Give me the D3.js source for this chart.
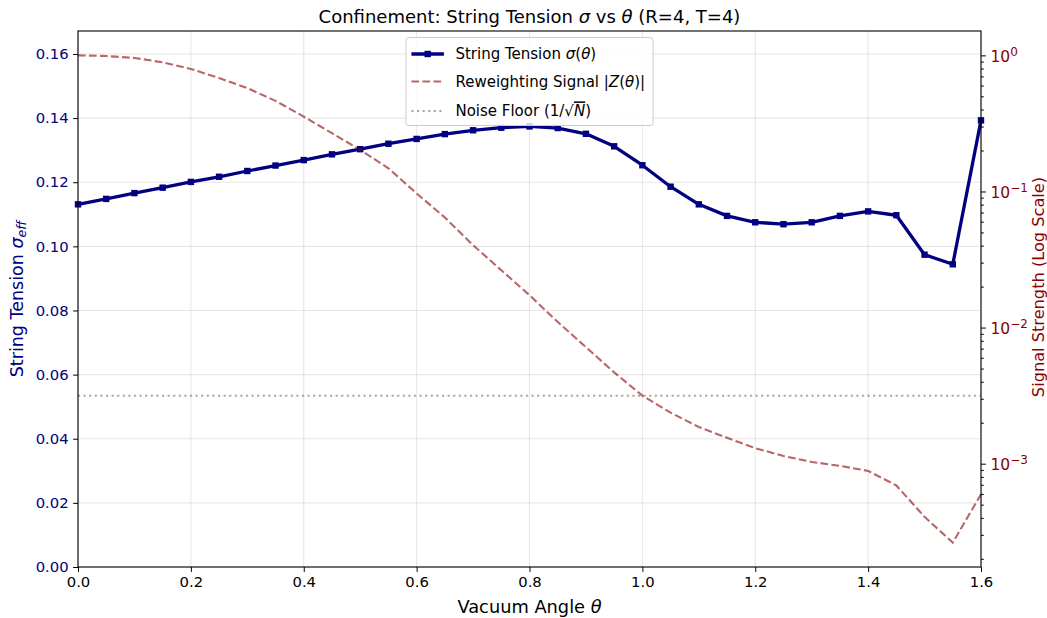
<html>
<head>
<meta charset="utf-8">
<script src="https://cdn.jsdelivr.net/npm/d3@7"></script>
<style>
body { margin: 0; background: #fff; }
text { font-family: "DejaVu Sans", sans-serif; }
</style>
</head>
<body>
<script>

// data
var theta = [0.00, 0.05, 0.10, 0.15, 0.20, 0.25, 0.30, 0.35, 0.40, 0.45, 0.50,
             0.55, 0.60, 0.65, 0.70, 0.75, 0.80, 0.85, 0.90, 0.95, 1.00,
             1.05, 1.10, 1.15, 1.20, 1.25, 1.30, 1.35, 1.40, 1.45, 1.50, 1.55, 1.60]

var tension = [0.1131, 0.1148, 0.1166, 0.1183, 0.1201, 0.1217, 0.1235, 0.1252, 0.1269, 0.1287, 0.1303,
               0.1320, 0.1335, 0.1350, 0.1362, 0.1370, 0.1374, 0.1369, 0.1351, 0.1312, 0.1253,
               0.1186, 0.1131, 0.1095, 0.1075, 0.1069, 0.1075, 0.1095, 0.1109, 0.1097, 0.0974, 0.0944, 0.1393]

var signal = [1.000, 0.989, 0.957, 0.889, 0.794, 0.681, 0.575, 0.463, 0.355, 0.268, 0.202,
              0.148, 0.0968, 0.0644, 0.0403, 0.0264, 0.0173, 0.0110, 0.00718, 0.00469, 0.00316,
              0.00237, 0.00186, 0.00155, 0.00130, 0.00114, 0.00103, 0.000964, 0.000885, 0.000692,
              0.000407, 0.000263, 0.000596]

var noiseFloor = 0.00316

var xTicks = [0.0, 0.2, 0.4, 0.6, 0.8, 1.0, 1.2, 1.4, 1.6]
var leftTicks = [0.00, 0.02, 0.04, 0.06, 0.08, 0.10, 0.12, 0.14, 0.16]
var rightTicks = [1e-3, 1e-2, 1e-1, 1]
var rightExp = {"0.001": "\u22123", "0.01": "\u22122", "0.1": "\u22121", "1": "0"}

var W = 1047, H = 618
var margin = {top: 31, right: 66, bottom: 51, left: 78}
var x0 = margin.left, x1 = W - margin.right, y0 = H - margin.bottom, y1 = margin.top

var svg = d3.select("body").append("svg").attr("width", W).attr("height", H)

var x = d3.scaleLinear().domain([0, 1.6]).range([x0, x1])
var yL = d3.scaleLinear().domain([0, d3.max(tension) * 1.2]).range([y0, y1])

// log axis with 5% padding in log space, like matplotlib
var lext = d3.extent(signal.concat([noiseFloor]), function(d) {return Math.log10(d)})
var pad = (lext[1] - lext[0]) * 0.05
var yR = d3.scaleLog().domain([Math.pow(10, lext[0] - pad), Math.pow(10, lext[1] + pad)]).range([y0, y1])

// grid
svg.append("g").selectAll("line").data(xTicks).enter().append("line")
.attr("x1", function(d) {return x(d)}).attr("x2", function(d) {return x(d)})
.attr("y1", y0).attr("y2", y1)
.attr("stroke", "#b0b0b0").attr("stroke-opacity", 0.3).attr("stroke-width", 1.1)

svg.append("g").selectAll("line").data(leftTicks).enter().append("line")
.attr("x1", x0).attr("x2", x1)
.attr("y1", function(d) {return yL(d)}).attr("y2", function(d) {return yL(d)})
.attr("stroke", "#b0b0b0").attr("stroke-opacity", 0.3).attr("stroke-width", 1.1)

// string tension line
var lineL = d3.line().x(function(d, i) {return x(theta[i])}).y(function(d) {return yL(d)})

svg.append("path").datum(tension)
.attr("d", lineL)
.attr("fill", "none").attr("stroke", "navy").attr("stroke-width", 3.3)
.attr("stroke-linejoin", "round")

svg.append("g").selectAll("rect").data(tension).enter().append("rect")
.attr("x", function(d, i) {return x(theta[i]) - 3.2})
.attr("y", function(d) {return yL(d) - 3.2})
.attr("width", 6.4).attr("height", 6.4)
.attr("fill", "navy")

// reweighting signal
var lineR = d3.line().x(function(d, i) {return x(theta[i])}).y(function(d) {return yR(d)})

svg.append("path").datum(signal)
.attr("d", lineR)
.attr("fill", "none").attr("stroke", "darkred").attr("stroke-opacity", 0.6)
.attr("stroke-width", 2.1).attr("stroke-dasharray", "7.7,3.3")

// noise floor
svg.append("line")
.attr("x1", x0).attr("x2", x1)
.attr("y1", yR(noiseFloor)).attr("y2", yR(noiseFloor))
.attr("stroke", "gray").attr("stroke-opacity", 0.7)
.attr("stroke-width", 2.1).attr("stroke-dasharray", "2.1,3.5")

// spines
svg.append("rect")
.attr("x", x0).attr("y", y1).attr("width", x1 - x0).attr("height", y0 - y1)
.attr("fill", "none").attr("stroke", "black").attr("stroke-width", 1.1)

// x axis
var xAxis = svg.append("g").attr("transform", "translate(0," + y0 + ")")
.call(d3.axisBottom(x).tickValues(xTicks).tickFormat(d3.format(".1f")).tickSize(4.9).tickPadding(4.5))
xAxis.select(".domain").remove()
xAxis.selectAll("text").attr("font-size", "14.8px").attr("font-family", "DejaVu Sans").attr("fill", "black")

// left axis
var lAxis = svg.append("g").attr("transform", "translate(" + x0 + ",0)")
.call(d3.axisLeft(yL).tickValues(leftTicks).tickFormat(d3.format(".2f")).tickSize(4.9).tickPadding(4.5))
lAxis.select(".domain").remove()
lAxis.selectAll("text").attr("font-size", "14.8px").attr("font-family", "DejaVu Sans").attr("fill", "navy")

// right axis (log), minor ticks first
var minor = []
for (var e = -5; e <= 1; e++) {
  for (var m = 2; m <= 9; m++) {
    var v = m * Math.pow(10, e)
    if (v >= yR.domain()[0] && v <= yR.domain()[1]) minor.push(v)
  }
}
var rMinor = svg.append("g").attr("transform", "translate(" + x1 + ",0)")
.call(d3.axisRight(yR).tickValues(minor).tickFormat("").tickSize(2.8))
rMinor.select(".domain").remove()

var rAxis = svg.append("g").attr("transform", "translate(" + x1 + ",0)")
.call(d3.axisRight(yR).tickValues(rightTicks).tickFormat("").tickSize(4.9))
rAxis.select(".domain").remove()

var rLab = rAxis.selectAll(".tick").append("text")
.attr("x", 9.5).attr("dy", "0.38em")
.attr("fill", "darkred").attr("font-size", "15.5px").attr("font-family", "DejaVu Sans")
.attr("text-anchor", "start")
rLab.append("tspan").text("10")
rLab.append("tspan").attr("dy", "-0.5em").attr("font-size", "12px")
.text(function(d) {return rightExp[String(d)]})

// title and labels
svg.append("text")
.attr("x", (x0 + x1) / 2).attr("y", 23).attr("text-anchor", "middle")
.attr("font-size", "18px")
.html("Confinement: String Tension <tspan font-style='italic'>\u03c3</tspan> vs <tspan font-style='italic'>\u03b8</tspan> (R=4, T=4)")

svg.append("text")
.attr("x", (x0 + x1) / 2).attr("y", 613).attr("text-anchor", "middle")
.attr("font-size", "17.8px")
.html("Vacuum Angle <tspan font-style='italic'>\u03b8</tspan>")

svg.append("text")
.attr("transform", "translate(17," + ((y0 + y1) / 2) + ") rotate(-90)")
.attr("text-anchor", "middle").attr("dominant-baseline", "central")
.attr("font-size", "17.5px").attr("fill", "navy")
.html("String Tension <tspan font-style='italic'>\u03c3</tspan><tspan font-style='italic' font-size='12.5px' dy='4'>eff</tspan>")

svg.append("text")
.attr("transform", "translate(1038,287) rotate(-90)")
.attr("text-anchor", "middle").attr("dominant-baseline", "central")
.attr("font-size", "16.2px").attr("fill", "darkred")
.text("Signal Strength (Log Scale)")

// legend
var legItems = [
  {html: "String Tension <tspan font-style='italic'>\u03c3</tspan>(<tspan font-style='italic'>\u03b8</tspan>)", kind: "tension"},
  {html: "Reweighting Signal |<tspan font-style='italic'>Z</tspan>(<tspan font-style='italic'>\u03b8</tspan>)|", kind: "signal"},
  {html: "Noise Floor (1/\u221a<tspan font-style='italic' text-decoration='overline' style='text-decoration: overline'>N</tspan>)", kind: "noise"}
]
var rowY = [54, 81.5, 111]

var leg = svg.append("g")
var legBox = leg.append("rect")
.attr("fill", "white").attr("fill-opacity", 0.8)
.attr("stroke", "#cccccc").attr("stroke-width", 1).attr("rx", 3)

var legRows = leg.selectAll(".legRow").data(legItems).enter().append("g")
.attr("class", "legRow")
.attr("transform", function(d, i) {return "translate(0," + rowY[i] + ")"})

var legText = legRows.append("text")
.attr("x", 49.5).attr("dy", "0.36em").attr("font-size", "15px")
.html(function(d) {return d.html})

var tw = d3.max(legText.nodes(), function(n) {return n.getComputedTextLength()})
var boxW = 49.5 + tw + 8
var bx = (x0 + x1) / 2 - boxW / 2
leg.attr("transform", "translate(" + bx + ",0)")
legBox.attr("x", 0).attr("y", 37.5).attr("width", boxW).attr("height", 88)

legRows.append("line")
.attr("x1", 5.5).attr("x2", 38).attr("y1", 0).attr("y2", 0)
.attr("stroke", function(d) {return d.kind == "tension" ? "navy" : d.kind == "signal" ? "darkred" : "gray"})
.attr("stroke-opacity", function(d) {return d.kind == "tension" ? 1 : d.kind == "signal" ? 0.6 : 0.7})
.attr("stroke-width", function(d) {return d.kind == "tension" ? 3.3 : 2.1})
.attr("stroke-dasharray", function(d) {return d.kind == "signal" ? "7.7,3.3" : d.kind == "noise" ? "2.1,3.5" : null})

legRows.filter(function(d) {return d.kind == "tension"}).append("rect")
.attr("x", 21.75 - 3.2).attr("y", -3.2).attr("width", 6.4).attr("height", 6.4).attr("fill", "navy")

</script>
</body>
</html>
